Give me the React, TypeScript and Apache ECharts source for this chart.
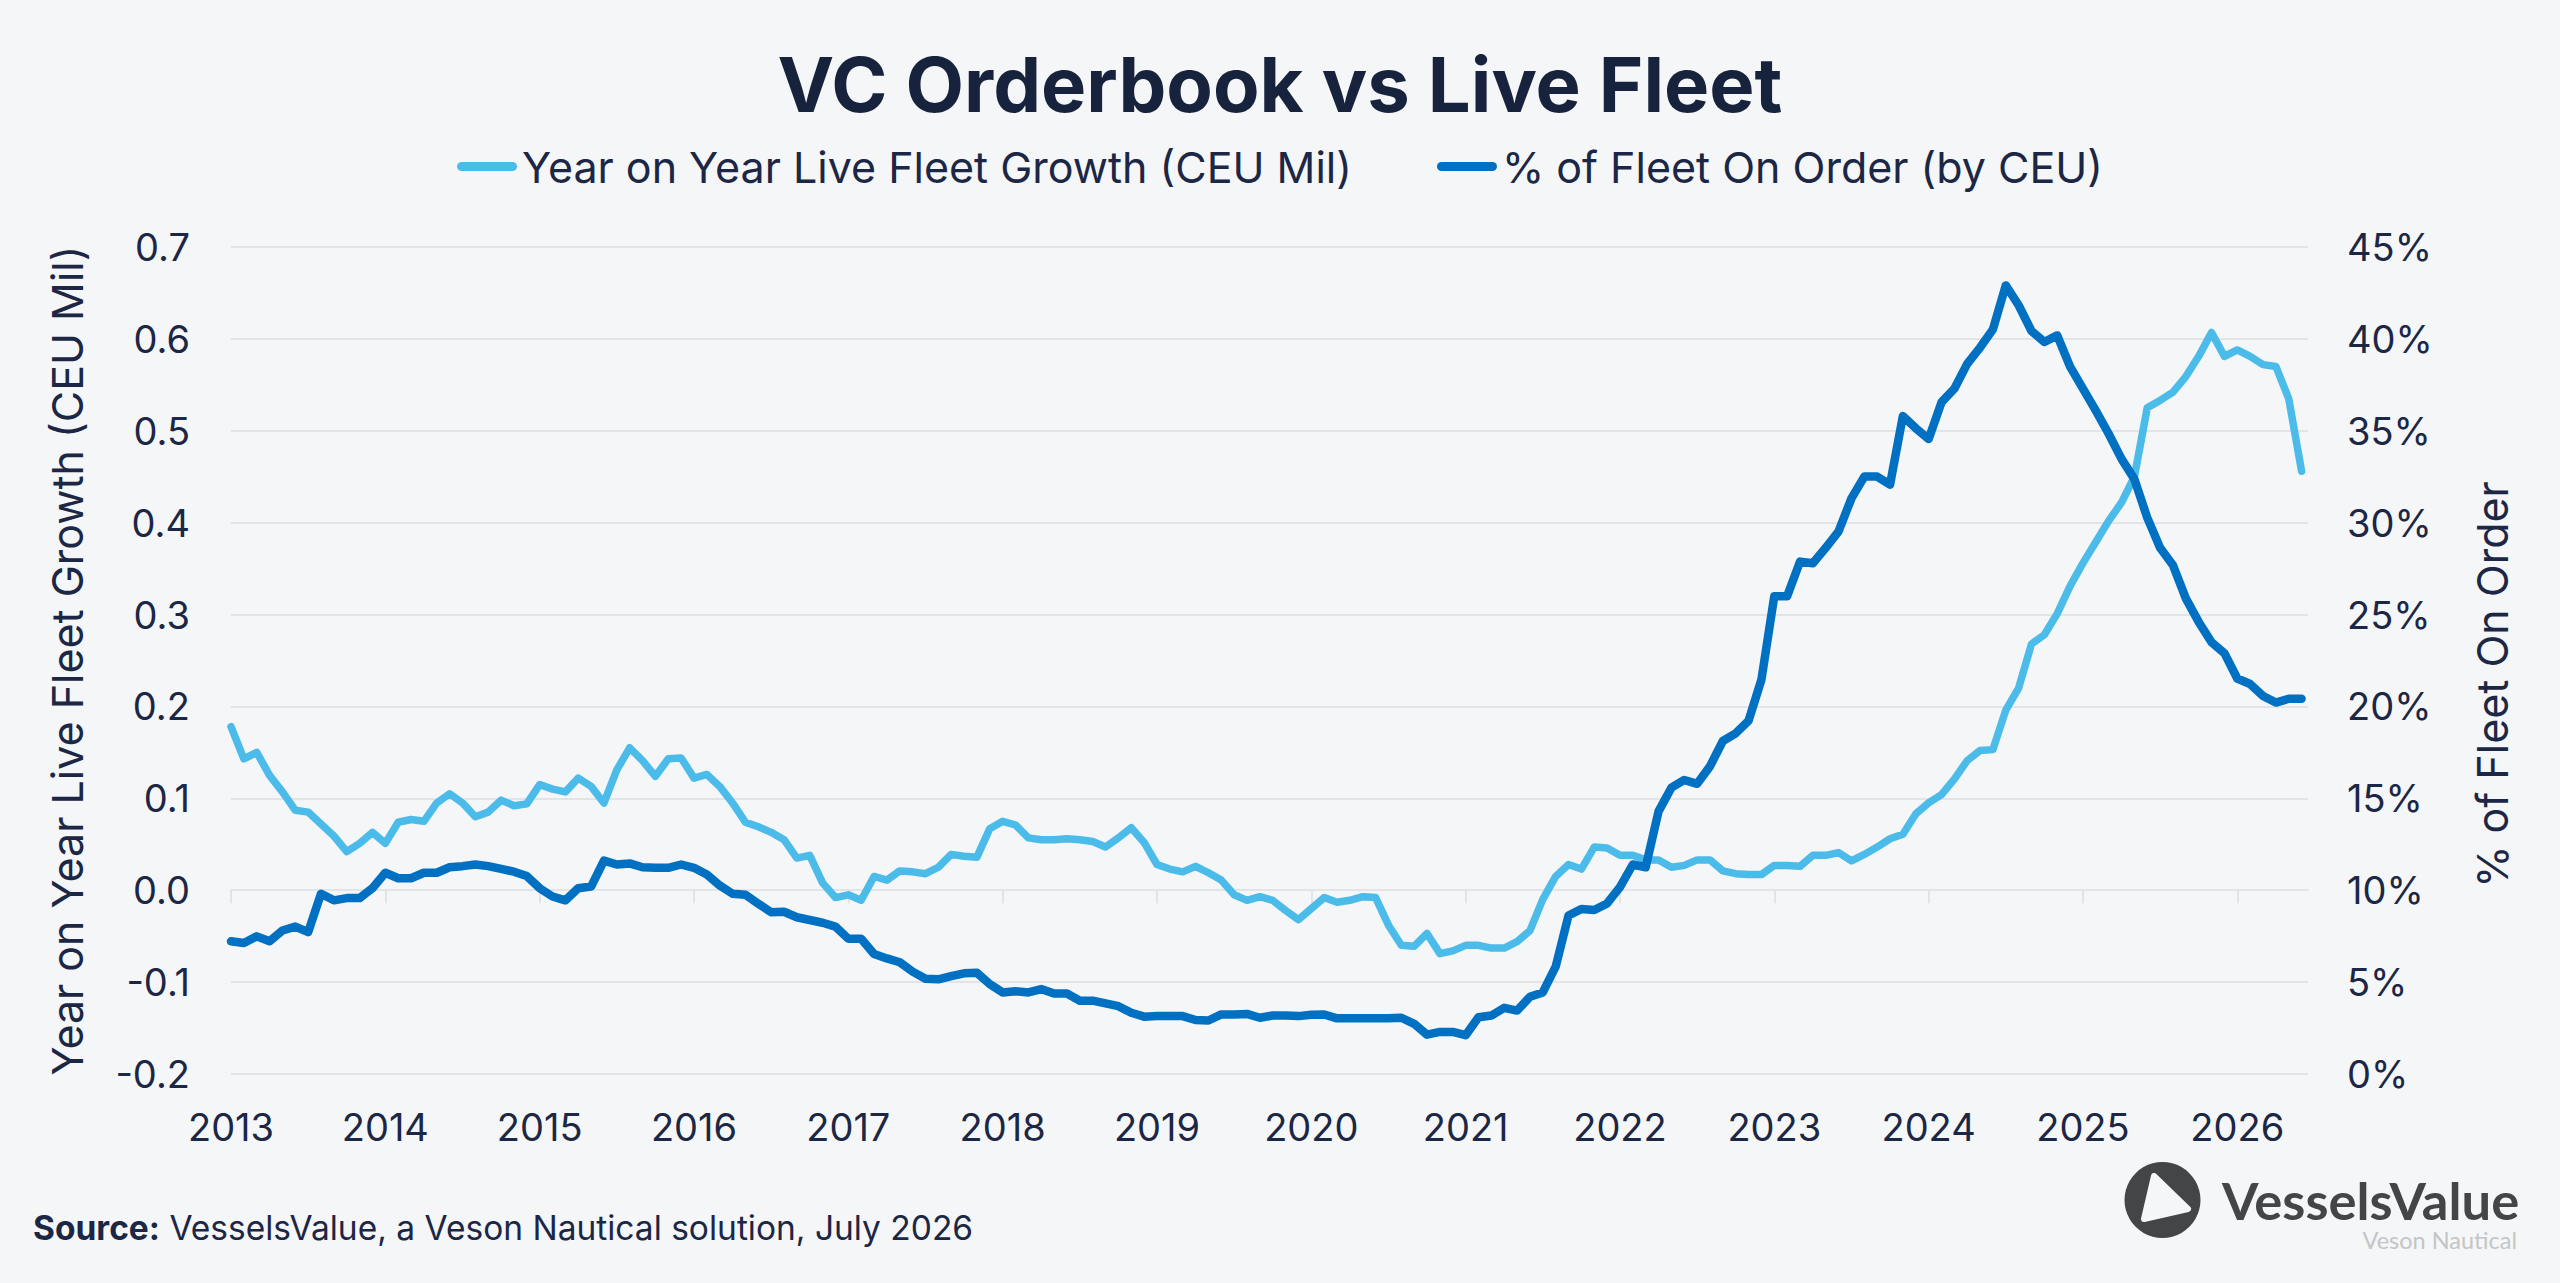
import React, { useEffect, useRef } from "react";
import * as echarts from "echarts";

// Monthly observations, Jan 2013 (index 0) to Jun 2026 (index 161)
const startYear = 2013;
const yearLabels = [2013, 2014, 2015, 2016, 2017, 2018, 2019, 2020, 2021, 2022, 2023, 2024, 2025, 2026];

// Year on Year Live Fleet Growth (CEU Mil)
const fleetGrowth = [
  0.178, 0.143, 0.150, 0.125, 0.107, 0.087, 0.085, 0.072, 0.059, 0.042, 0.051, 0.063,
  0.051, 0.074, 0.077, 0.075, 0.095, 0.105, 0.095, 0.080, 0.085, 0.098, 0.092, 0.094,
  0.115, 0.110, 0.107, 0.122, 0.113, 0.095, 0.131, 0.155, 0.141, 0.124, 0.143, 0.144,
  0.122, 0.126, 0.113, 0.095, 0.074, 0.069, 0.063, 0.055, 0.035, 0.038, 0.008, -0.008,
  -0.005, -0.011, 0.015, 0.011, 0.021, 0.020, 0.018, 0.025, 0.039, 0.037, 0.036, 0.067,
  0.075, 0.071, 0.057, 0.055, 0.055, 0.056, 0.055, 0.053, 0.047, 0.057, 0.068, 0.052,
  0.028, 0.023, 0.020, 0.026, 0.019, 0.011, -0.005, -0.011, -0.007, -0.011, -0.022, -0.032,
  -0.020, -0.008, -0.013, -0.011, -0.007, -0.008, -0.038, -0.060, -0.061, -0.047, -0.069, -0.066,
  -0.060, -0.060, -0.063, -0.063, -0.056, -0.044, -0.010, 0.015, 0.028, 0.023, 0.047, 0.046,
  0.038, 0.038, 0.033, 0.033, 0.025, 0.027, 0.033, 0.033, 0.021, 0.018, 0.017, 0.017,
  0.027, 0.027, 0.026, 0.038, 0.038, 0.041, 0.032, 0.039, 0.047, 0.056, 0.061, 0.083,
  0.095, 0.104, 0.121, 0.141, 0.152, 0.153, 0.196, 0.220, 0.268, 0.278, 0.301, 0.331,
  0.356, 0.379, 0.402, 0.422, 0.450, 0.525, 0.533, 0.542, 0.559, 0.581, 0.607, 0.581,
  0.588, 0.581, 0.572, 0.570, 0.535, 0.456,
];

// % of Fleet On Order (by CEU), in percent
const fleetOnOrder = [
  7.22, 7.13, 7.49, 7.22, 7.81, 8.02, 7.72, 9.81, 9.45, 9.57, 9.57, 10.11,
  10.95, 10.65, 10.65, 10.95, 10.95, 11.25, 11.31, 11.40, 11.31, 11.16, 11.01, 10.77,
  10.11, 9.66, 9.45, 10.11, 10.20, 11.61, 11.40, 11.46, 11.25, 11.22, 11.22, 11.40,
  11.22, 10.86, 10.26, 9.81, 9.75, 9.27, 8.80, 8.83, 8.53, 8.38, 8.23, 8.02,
  7.36, 7.36, 6.53, 6.29, 6.08, 5.57, 5.18, 5.15, 5.33, 5.48, 5.51, 4.89,
  4.44, 4.50, 4.44, 4.62, 4.38, 4.38, 3.99, 3.99, 3.84, 3.69, 3.33, 3.12,
  3.15, 3.15, 3.15, 2.94, 2.91, 3.24, 3.24, 3.27, 3.06, 3.18, 3.18, 3.15,
  3.22, 3.24, 3.03, 3.03, 3.03, 3.03, 3.03, 3.06, 2.73, 2.14, 2.29, 2.29,
  2.11, 3.09, 3.18, 3.60, 3.45, 4.20, 4.44, 5.84, 8.62, 8.98, 8.92, 9.28,
  10.17, 11.40, 11.25, 14.29, 15.58, 16.00, 15.79, 16.74, 18.12, 18.54, 19.22, 21.46,
  26.00, 26.00, 27.88, 27.79, 28.63, 29.53, 31.32, 32.51, 32.51, 32.07, 35.80, 35.14,
  34.55, 36.55, 37.29, 38.64, 39.53, 40.52, 42.91, 41.83, 40.43, 39.83, 40.19, 38.49,
  37.29, 36.10, 34.84, 33.47, 32.37, 30.27, 28.63, 27.68, 25.88, 24.60, 23.49, 22.90,
  21.52, 21.22, 20.57, 20.21, 20.42, 20.42,
];

const seriesNames = ["Year on Year Live Fleet Growth (CEU Mil)", "% of Fleet On Order (by CEU)"];
const leftAxisName = "Year on Year Live Fleet Growth (CEU Mil)";
const rightAxisName = "% of Fleet On Order";
const chartTitle = "VC Orderbook vs Live Fleet";
const sourceLabel = "Source:";
const sourceText = "VesselsValue, a Veson Nautical solution, July 2026";

const NAVY = "#1b2745";
const LIGHT = "#4bbbe9";
const DARK = "#0070c3";
const GRID = "#e2e4e7";
const BG = "#f5f6f7";
const FONT = "Inter, 'Noto Sans', sans-serif";
const LOGO_FONT = "Lato, 'Noto Sans', sans-serif";

// January of each year, as month indices
const yearTicks = yearLabels.map((y) => (y - startYear) * 12);

// Capsule-shaped legend marker
const pill = "path://M4.5,0 L55.5,0 A4.5,4.5 0 0 1 55.5,9 L4.5,9 A4.5,4.5 0 0 1 4.5,0 Z";

export default function App() {
  const ref = useRef<HTMLDivElement>(null);

  useEffect(() => {
    document.body.style.margin = "0";
    if (!ref.current) return;
    const chart = echarts.init(ref.current, undefined, { renderer: "svg" });

    chart.setOption({
      animation: false,
      backgroundColor: BG,
      textStyle: { fontFamily: FONT },
      title: {
        text: chartTitle,
        left: "center",
        top: 41,
        textStyle: { fontSize: 76, fontWeight: 700, color: "#17223d", fontFamily: FONT },
      },
      legend: {
        top: 140,
        left: "center",
        itemWidth: 60,
        itemHeight: 9,
        itemGap: 85,
        icon: pill,
        textStyle: { fontSize: 43, color: NAVY, fontFamily: FONT },
        data: [
          { name: seriesNames[0], itemStyle: { color: LIGHT } },
          { name: seriesNames[1], itemStyle: { color: DARK } },
        ],
      },
      grid: { left: 231, top: 247, width: 2077, height: 827, containLabel: false },
      xAxis: {
        type: "value",
        min: 0,
        max: 161.5,
        axisLine: { show: true, onZero: true, onZeroAxisIndex: 0, lineStyle: { color: GRID, width: 2 } },
        axisTick: { show: true, length: 13, customValues: yearTicks, lineStyle: { color: GRID, width: 2 } },
        axisLabel: {
          customValues: yearTicks,
          formatter: (v: number) => String(startYear + Math.round(v / 12)),
          color: NAVY,
          fontSize: 38,
          margin: 34,
          fontFamily: FONT,
        },
        splitLine: { show: false },
      },
      yAxis: [
        {
          type: "value",
          min: -0.2,
          max: 0.7,
          interval: 0.1,
          position: "left",
          name: leftAxisName,
          nameLocation: "middle",
          nameRotate: 90,
          nameGap: 143,
          nameTextStyle: { fontSize: 43, color: NAVY, fontFamily: FONT },
          axisLine: { show: false, onZero: false },
          axisTick: { show: false },
          axisLabel: {
            formatter: (v: number) => v.toFixed(1),
            color: NAVY,
            fontSize: 38,
            margin: 41,
            fontFamily: FONT,
          },
          splitLine: { show: true, lineStyle: { color: GRID, width: 2 } },
        },
        {
          type: "value",
          min: 0,
          max: 45,
          interval: 5,
          position: "right",
          name: rightAxisName,
          nameLocation: "middle",
          nameRotate: 90,
          nameGap: 162,
          nameTextStyle: { fontSize: 43, color: NAVY, fontFamily: FONT, padding: [0, 48, 0, 0] },
          axisLine: { show: false, onZero: false },
          axisTick: { show: false },
          axisLabel: {
            formatter: (v: number) => `${v}%`,
            color: NAVY,
            fontSize: 38,
            margin: 39,
            fontFamily: FONT,
          },
          splitLine: { show: false },
        },
      ],
      series: [
        {
          name: seriesNames[0],
          type: "line",
          yAxisIndex: 0,
          data: fleetGrowth.map((v, i) => [i, v]),
          symbol: "none",
          showSymbol: false,
          itemStyle: { color: LIGHT },
          lineStyle: { color: LIGHT, width: 7.5, cap: "round", join: "round" },
          z: 3,
        },
        {
          name: seriesNames[1],
          type: "line",
          yAxisIndex: 1,
          data: fleetOnOrder.map((v, i) => [i, v]),
          symbol: "none",
          showSymbol: false,
          itemStyle: { color: DARK },
          lineStyle: { color: DARK, width: 8.5, cap: "round", join: "round" },
          z: 4,
        },
      ],
      graphic: [
        {
          type: "text",
          left: 33,
          top: 1211,
          style: {
            text: `{b|${sourceLabel}} ${sourceText}`,
            fontSize: 33.5,
            fill: NAVY,
            fontFamily: FONT,
            rich: { b: { fontSize: 33.5, fontWeight: 700, fill: NAVY, fontFamily: FONT } },
          },
        },
        {
          type: "group",
          children: [
            { type: "circle", shape: { cx: 2162.5, cy: 1200, r: 38 }, style: { fill: "#444546" } },
            {
              type: "polygon",
              shape: { points: [[2154, 1176], [2188, 1209], [2144, 1219]] },
              style: { fill: BG, stroke: BG, lineWidth: 6, lineJoin: "round" },
            },
            {
              type: "text",
              x: 2222,
              y: 1199,
              style: {
                text: "VesselsValue",
                fontSize: 52.5,
                fontWeight: 700,
                fontFamily: LOGO_FONT,
                fill: "#444546",
                align: "left",
                verticalAlign: "middle",
              },
            },
            {
              type: "text",
              x: 2517,
              y: 1240,
              style: {
                text: "Veson Nautical",
                fontSize: 23.5,
                fontFamily: LOGO_FONT,
                fill: "#c4c5c6",
                align: "right",
                verticalAlign: "middle",
              },
            },
          ],
        },
      ],
    });

    return () => chart.dispose();
  }, []);

  return <div ref={ref} style={{ width: 2560, height: 1283 }} />;
}
